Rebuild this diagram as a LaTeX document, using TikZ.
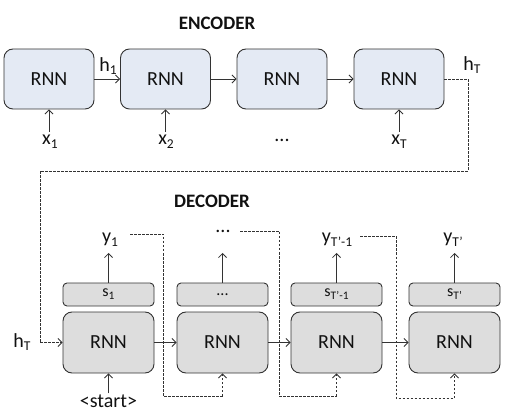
\documentclass[tikz,border=0pt]{standalone}
\usepackage{fontspec}
\setmainfont{Carlito}
\usetikzlibrary{arrows.meta}
\definecolor{encfill}{HTML}{E4EAF4}
\definecolor{decfill}{HTML}{DDDDDD}
\definecolor{ink}{HTML}{111111}
\definecolor{edge}{HTML}{333333}
\newcommand{\lsub}[1]{\raisebox{-0.4ex}{\fontsize{13.5}{13.5}\selectfont #1}}
\newcommand{\ssub}[1]{\raisebox{-0.4ex}{\fontsize{11.5}{11.5}\selectfont #1}}
\tikzset{
  every node/.style={text=ink, font=\fontsize{20}{22}\selectfont, inner sep=1pt},
  encbox/.style={draw=edge, line width=0.9pt, fill=encfill, rounded corners=9pt, minimum width=90pt, minimum height=60pt},
  decbox/.style={draw=edge, line width=0.9pt, fill=decfill, rounded corners=9pt, minimum width=91pt, minimum height=61pt},
  sbox/.style={draw=edge, line width=0.9pt, fill=decfill, rounded corners=4pt, minimum width=91pt, minimum height=23pt, font=\fontsize{16}{18}\selectfont},
  title/.style={font=\fontsize{19}{21}\selectfont\bfseries},
  arr/.style={draw=edge, line width=0.8pt, -{Straight Barb[length=4pt,width=8pt]}},
  darr/.style={arr, dashed, dash pattern=on 2.5pt off 1.5pt},
  dline/.style={draw=edge, line width=0.8pt, dashed, dash pattern=on 2.5pt off 1.5pt},
}
\begin{document}
\begin{tikzpicture}[x=1pt,y=-1pt]
\useasboundingbox (0,0) rectangle (513,411);
\node[title] (enc) at (217,23) {ENCODER};
\node[title] (dec) at (212,201) {DECODER};
% encoder
\node[encbox] (e1) at (49,79) {RNN};
\node[encbox] (e2) at (165.5,79) {RNN};
\node[encbox] (e3) at (282,79) {RNN};
\node[encbox] (e4) at (399,79) {RNN};
\node (x1) at (50,142) {x\lsub{1}};
\node (x2) at (166,142) {x\lsub{2}};
\node (xd) at (282,140) {...};
\node (xT) at (399,142) {x\lsub{T}};
\node (h1) at (108,66) {h\lsub{1}};
\node (hT) at (472,65) {h\lsub{T}};
\draw[arr] (e1.east) -- (e2.west);
\draw[arr] (e2.east) -- (e3.west);
\draw[arr] (e3.east) -- (e4.west);
\draw[arr] (e1.south |- 0,132) -- (e1.south);
\draw[arr] (e2.south |- 0,132) -- (e2.south);
\draw[arr] (e4.south |- 0,132) -- (e4.south);
% decoder
\node[decbox] (d1) at (108.5,342.5) {RNN};
\node[decbox] (d2) at (222.5,342.5) {RNN};
\node[decbox] (d3) at (336.5,342.5) {RNN};
\node[decbox] (d4) at (454.5,342.5) {RNN};
\node[sbox] (s1) at (108.5,294.5) {s\ssub{1}};
\node[sbox] (s2) at (222.5,294.5) {...};
\node[sbox] (s3) at (336.5,294.5) {s\ssub{T’-1}};
\node[sbox] (s4) at (454.5,294.5) {s\ssub{T’}};
\node (y1) at (110,240) {y\lsub{1}};
\node (y2) at (223,231) {...};
\node (y3) at (337,240) {y\lsub{T’-1}};
\node (y4) at (453,240) {y\lsub{T’}};
\node (hT2) at (22,342) {h\lsub{T}};
\node (start) at (108.5,401) {<start>};
\draw[arr] (s1.north) -- (108.5,253);
\draw[arr] (s2.north) -- (222.5,253);
\draw[arr] (s3.north) -- (336.5,253);
\draw[arr] (s4.north) -- (454.5,253);
\draw[arr] (d1.east) -- (d2.west);
\draw[arr] (d2.east) -- (d3.west);
\draw[arr] (d3.east) -- (d4.west);
\draw[arr] (start.north) -- (d1.south);
% encoder-to-decoder link
\coordinate (c1) at (468,79);
\coordinate (c2) at (468,171);
\coordinate (c3) at (40,171);
\coordinate (c4) at (40,342.5);
\draw[dline] (e4.east) -- (c1) -- (c2) -- (c3) -- (c4);
\draw[darr] (c4) -- (d1.west);
% feedback
\coordinate (f1a) at (130,234);
\coordinate (f1b) at (163,234);
\coordinate (f1c) at (163,396);
\coordinate (f1d) at (222.5,396);
\draw[dline] (f1a) -- (f1b) -- (f1c) -- (f1d);
\draw[darr] (f1d) -- (d2.south);
\coordinate (f2a) at (240,231);
\coordinate (f2b) at (279,231);
\coordinate (f2c) at (279,396);
\coordinate (f2d) at (336.5,396);
\draw[dline] (f2a) -- (f2b) -- (f2c) -- (f2d);
\draw[darr] (f2d) -- (d3.south);
\coordinate (f3a) at (360,236.5);
\coordinate (f3b) at (396,236.5);
\coordinate (f3c) at (396,398);
\coordinate (f3d) at (454.5,398);
\draw[dline] (f3a) -- (f3b) -- (f3c) -- (f3d);
\draw[darr] (f3d) -- (d4.south);
\end{tikzpicture}
\end{document}
